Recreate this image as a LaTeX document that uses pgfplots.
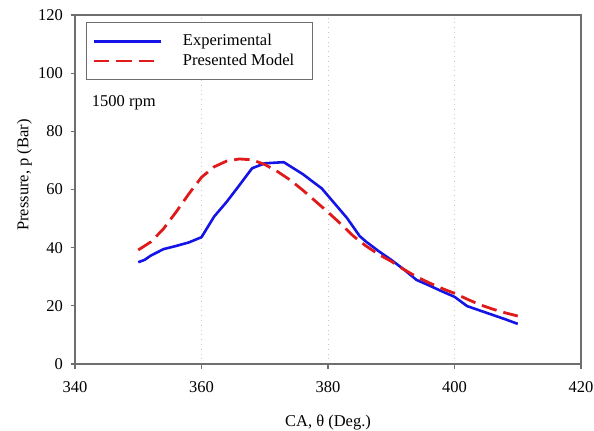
\documentclass[border=0pt]{standalone}
\usepackage{fontspec}
\setmainfont{Liberation Serif}
\usepackage{pgfplots}
\pgfplotsset{compat=1.18}
\definecolor{ExpBlue}{HTML}{1414E6}
\definecolor{ModRed}{HTML}{E01A1A}
\definecolor{Spine}{HTML}{6E6E6E}

\pgfplotstableread{
ca p
350 35.0
351 35.8
352 37.3
354 39.5
356 40.6
358 41.8
360 43.6
362 50.7
364 55.8
366 61.5
368 67.3
370 69.0
373 69.4
376 65.3
379 60.4
381 55.3
383 50.2
385 44.0
386 42.1
388 38.8
390 35.8
392 32.5
394 28.9
396 27.0
398 25.0
400 23.1
402 19.9
404 18.4
406 16.9
408 15.4
410 13.8
}\experimental

\pgfplotstableread{
ca p
350 39.2
352 42.0
354 46.5
356 52.3
358 58.5
360 64.2
362 67.8
364 69.8
366 70.5
368 70.2
370 68.6
372 66.2
374 63.3
376 59.8
378 56.0
380 52.2
382 48.2
384 44.0
386 40.6
388 37.7
390 35.3
392 32.5
394 30.0
396 27.9
398 26.0
400 24.3
402 22.3
404 20.4
406 18.9
408 17.6
410 16.5
}\model

\begin{document}
\fontsize{16.5}{19.8}\selectfont
\begin{tikzpicture}
\begin{axis}[
  scale only axis,
  width=506pt, height=349pt,
  xmin=340, xmax=420, ymin=0, ymax=120,
  xtick={340,360,...,420}, ytick={0,20,...,120},
  tick pos=left, tick align=outside,
  major tick length=4.5pt,
  axis line style={draw=Spine, line width=1.2pt},
  tick style={draw=Spine, line width=1.1pt},
  xmajorgrids, grid style={dash pattern=on 0.8pt off 4pt, gray!45, line width=0.8pt},
  /pgf/number format/assume math mode=true,
  ticklabel style={font=\fontsize{16.5}{19.8}\selectfont},
  xticklabel style={yshift=-7pt},
  yticklabel style={xshift=-2pt},
  xlabel={CA, θ (Deg.)},
  ylabel={Pressure, p (Bar)},
  label style={font=\fontsize{16.5}{19.8}\selectfont},
  xlabel style={at={(rel axis cs:0.5,-0.1805)}, anchor=base},
  ylabel style={at={(rel axis cs:-0.0919,0.5415)}, anchor=base},
  legend style={at={(0.021,0.98)}, anchor=north west, draw=Spine, line width=1.1pt,
    inner xsep=6pt, inner ysep=10pt, row sep=1.5pt, column sep=19pt,
    font=\fontsize{16.5}{19.8}\selectfont},
  legend cell align=left,
  legend image code/.code={\draw[#1] (0pt,0pt) -- (67pt,0pt);},
]
\addplot[ExpBlue, line width=2.6pt, line join=round] table[x=ca, y=p] {\experimental};
\addlegendentry{Experimental}
\addplot[ModRed, line width=2.8pt, dash pattern=on 15.5pt off 7pt] table[x=ca, y=p] {\model};
\addlegendentry{Presented Model\hspace*{10pt}}
\node[anchor=base west, inner sep=0pt] at (rel axis cs:0.033,0.739) {1500 rpm};
\coordinate (bl) at (rel axis cs:0,0);
\coordinate (tr) at (rel axis cs:1,1);
\end{axis}
\pgfresetboundingbox
\path ([shift={(-75pt,-66pt)}]bl) rectangle ([shift={(13pt,15pt)}]tr);
\end{tikzpicture}
\end{document}
